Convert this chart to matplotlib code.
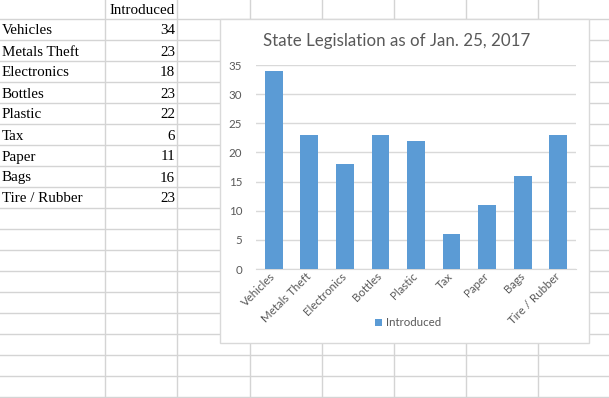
import numpy as np
import matplotlib
matplotlib.use('Agg')
import matplotlib.pyplot as plt
from matplotlib.patches import Rectangle

categories = ['Vehicles', 'Metals Theft', 'Electronics', 'Bottles', 'Plastic',
              'Tax', 'Paper', 'Bags', 'Tire / Rubber']
introduced = [34, 23, 18, 23, 22, 6, 11, 16, 23]
series_name = 'Introduced'
title = 'State Legislation as of Jan. 25, 2017'
yticks = [0, 5, 10, 15, 20, 25, 30, 35]

W, H = 609, 398
fig = plt.figure(figsize=(W / 100, H / 100), dpi=100)
fig.patch.set_facecolor('white')

# spreadsheet background in pixel coords
bg = fig.add_axes([0, 0, 1, 1])
bg.set_xlim(0, W)
bg.set_ylim(H, 0)
bg.axis('off')

gridc = '#d4d4d4'
row_lines = [19 + 21 * k for k in range(19)]
col_lines = [105, 177, 250, 322, 394, 466, 538]
for y in row_lines:
    bg.plot([0, W], [y, y], color=gridc, lw=1, zorder=1)
for x in col_lines:
    bg.plot([x, x], [0, H], color=gridc, lw=1, zorder=1)

serif = 'Liberation Serif'
bg.text(175, 10.5, series_name, ha='right', va='center', fontsize=10.8,
        family=serif, color='black', zorder=2)
for i, (c, v) in enumerate(zip(categories, introduced)):
    yc = 19 + 21 * i + 12
    bg.text(2, yc, c, ha='left', va='center', fontsize=10.8, family=serif,
            color='black', zorder=2)
    bg.text(175, yc, str(v), ha='right', va='center', fontsize=10.8,
            family=serif, color='black', zorder=2)

# chart area
bg.add_patch(Rectangle((220, 19), 369, 324, facecolor='white',
                       edgecolor='#d9d9d9', lw=1, zorder=3))
bg.text(397, 41, title, ha='center', va='center', fontsize=12.2,
        family='Lato', color='#595959', zorder=4)

left, right, top, bottom = 256, 576, 65, 269
ax = fig.add_axes([left / W, 1 - bottom / H, (right - left) / W, (bottom - top) / H])
ax.set_facecolor('none')
x = np.arange(len(categories))
ax.bar(x, introduced, width=0.5, color='#5b9bd5', zorder=3, label=series_name)
ax.set_xlim(-0.5, len(categories) - 0.5)
ax.set_ylim(0, 35)
ax.set_yticks(yticks)
ax.set_yticklabels([str(t) for t in yticks], fontsize=8.3, family='Lato', color='#595959')
ax.yaxis.grid(True, color='#d9d9d9', lw=1, zorder=0)
ax.set_axisbelow(True)
for s in ['top', 'right', 'left']:
    ax.spines[s].set_visible(False)
ax.spines['bottom'].set_color('#d9d9d9')
ax.tick_params(axis='y', length=0, pad=10)
ax.tick_params(axis='x', length=0, pad=4)
ax.set_xticks(x)
ax.set_xticklabels(categories, rotation=45, ha='right', va='center',
                   rotation_mode='anchor', fontsize=8.3, family='Lato', color='#595959')

leg = ax.legend(loc='center', bbox_to_anchor=(408 / W, 1 - 323 / H),
                bbox_transform=fig.transFigure, frameon=False,
                handlelength=0.6, handleheight=0.6, handletextpad=0.3,
                prop={'family': 'Lato', 'size': 8.3})
for t in leg.get_texts():
    t.set_color('#595959')

fig.savefig('out.png', dpi=100)
